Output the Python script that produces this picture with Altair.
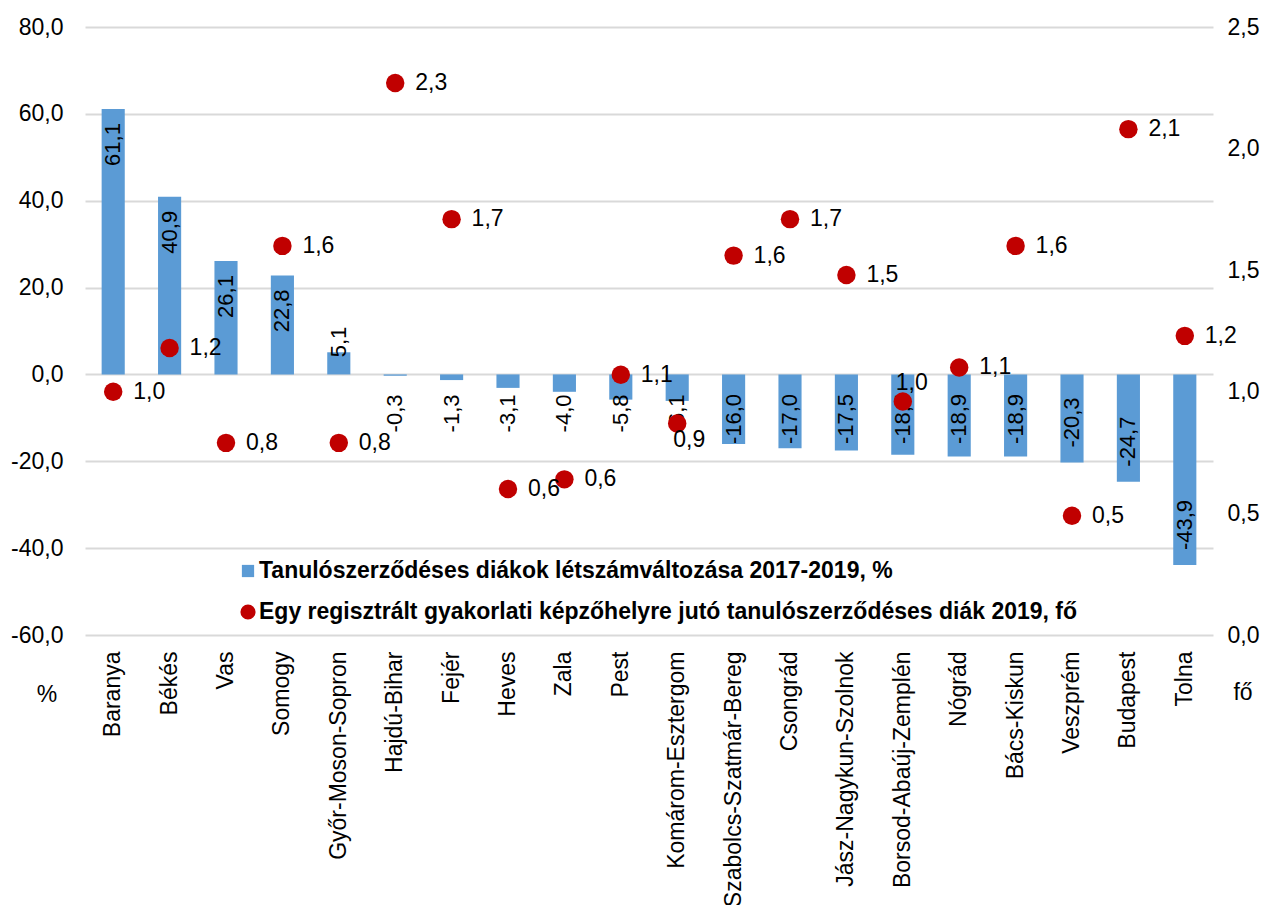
import altair as alt
import pandas as pd

counties = ["Baranya", "Békés", "Vas", "Somogy", "Győr-Moson-Sopron", "Hajdú-Bihar",
            "Fejér", "Heves", "Zala", "Pest", "Komárom-Esztergom", "Szabolcs-Szatmár-Bereg",
            "Csongrád", "Jász-Nagykun-Szolnok", "Borsod-Abaúj-Zemplén", "Nógrád",
            "Bács-Kiskun", "Veszprém", "Budapest", "Tolna"]
change_pct = [61.1, 40.9, 26.1, 22.8, 5.1, -0.3, -1.3, -3.1, -4.0, -5.8, -6.1, -16.0,
              -17.0, -17.5, -18.5, -18.9, -18.9, -20.3, -24.7, -43.9]
per_site = [1.0, 1.18, 0.79, 1.6, 0.79, 2.27, 1.71, 0.6, 0.64, 1.07, 0.87, 1.56,
            1.71, 1.48, 0.96, 1.1, 1.6, 0.49, 2.08, 1.23]

bar_series = "Tanulószerződéses diákok létszámváltozása 2017-2019, %"
dot_series = "Egy regisztrált gyakorlati képzőhelyre jutó tanulószerződéses diák 2019, fő"
left_unit = "%"
right_unit = "fő"
below_label = ["Komárom-Esztergom"]
above_label = ["Borsod-Abaúj-Zemplén"]
left_ticks = [-60, -40, -20, 0, 20, 40, 60, 80]
right_ticks = [0, 0.5, 1, 1.5, 2, 2.5]

BLUE = "#5B9BD5"
RED = "#C00000"
FONT = "Liberation Sans"
W, H = 1128, 608


def hu(v):
    return f"{v:.1f}".replace(".", ",")


df = pd.DataFrame({
    "county": counties,
    "chg": change_pct,
    "site": per_site,
    "chg_lab": [hu(v) for v in change_pct],
    "site_lab": [hu(v) for v in per_site],
})

x_axis = alt.Axis(title=None, labelAngle=270, labelFontSize=23, labelColor="black",
                  labelPadding=16, domain=False, ticks=False, labelFont=FONT,
                  labelLimit=400, grid=False)
x_scale = alt.Scale(paddingInner=0.59, paddingOuter=0.295)


def xenc():
    return alt.X("county:N", sort=counties, scale=x_scale, axis=x_axis)


yl_scale = alt.Scale(domain=[-60, 80], nice=False, zero=False)
yr_scale = alt.Scale(domain=[0, 2.5], nice=False, zero=False)

yl_axis = alt.Axis(title=None, orient="left", values=left_ticks,
                   labelExpr="(datum.value < 0 ? '-' : '') + replace(format(abs(datum.value), '.1f'), '.', ',')",
                   labelFontSize=23, labelColor="black", labelPadding=22, labelFont=FONT,
                   domain=False, ticks=False, grid=True, gridColor="#D9D9D9", gridWidth=2)
yr_axis = alt.Axis(title=None, orient="right", values=right_ticks,
                   labelExpr="replace(format(datum.value, '.1f'), '.', ',')",
                   labelFontSize=23, labelColor="black", labelPadding=14, labelFont=FONT,
                   domain=False, ticks=False, grid=False)

base = alt.Chart(df)

bars = base.mark_bar(color=BLUE).encode(
    x=xenc(),
    y=alt.Y("chg:Q", scale=yl_scale, axis=yl_axis),
)

lab_common = dict(angle=270, baseline="middle", fontSize=22, font=FONT, color="black")

lab_pos_big = base.transform_filter("datum.chg >= 10").mark_text(
    align="right", dx=-14, **lab_common).encode(
    x=xenc(), y=alt.Y("chg:Q", scale=yl_scale, axis=yl_axis),
    text="chg_lab:N")

lab_pos_small = base.transform_filter("datum.chg > 0 && datum.chg < 10").mark_text(
    align="left", dx=-5, **lab_common).encode(
    x=xenc(), y=alt.Y("chg:Q", scale=yl_scale, axis=yl_axis),
    text="chg_lab:N")

lab_neg = base.transform_filter("datum.chg < 0").transform_calculate(
    chg="datum.chg > -10 ? -16.8 : min(datum.chg, -19.5)").mark_text(
    align="left", dx=15, **lab_common).encode(
    x=xenc(), y=alt.Y("chg:Q", scale=yl_scale, axis=yl_axis),
    text="chg_lab:N")

left_layer = alt.layer(bars, lab_pos_big, lab_pos_small, lab_neg)

dots = base.mark_circle(color=RED, size=340, opacity=1).encode(
    x=xenc(),
    y=alt.Y("site:Q", scale=yr_scale, axis=yr_axis),
)

special = below_label + above_label
special_js = "[" + ",".join('"' + s + '"' for s in special) + "]"

dot_lab = base.transform_filter(
    "indexof(" + special_js + ", datum.county) < 0"
).mark_text(align="left", baseline="middle", dx=20, fontSize=23, font=FONT, color="black").encode(
    x=xenc(), y=alt.Y("site:Q", scale=yr_scale, axis=yr_axis),
    text="site_lab:N")

dot_lab_below = base.transform_filter(
    alt.FieldOneOfPredicate(field="county", oneOf=below_label)
).mark_text(align="center", baseline="middle", dx=12, dy=17, fontSize=23, font=FONT,
            color="black").encode(
    x=xenc(), y=alt.Y("site:Q", scale=yr_scale, axis=yr_axis),
    text="site_lab:N")

dot_lab_above = base.transform_filter(
    alt.FieldOneOfPredicate(field="county", oneOf=above_label)
).mark_text(align="center", baseline="middle", dx=9, dy=-19, fontSize=23, font=FONT,
            color="black").encode(
    x=xenc(), y=alt.Y("site:Q", scale=yr_scale, axis=yr_axis),
    text="site_lab:N")

right_layer = alt.layer(dots, dot_lab, dot_lab_below, dot_lab_above)

# legend and unit captions
one = pd.DataFrame({"k": [0]})
leg_sq = alt.Chart(one).mark_square(color=BLUE, size=150, opacity=1).encode(
    x=alt.value(163), y=alt.value(544))
leg_ci = alt.Chart(one).mark_circle(color=RED, size=230, opacity=1).encode(
    x=alt.value(163), y=alt.value(585))
leg_t1 = alt.Chart(one).mark_text(align="left", baseline="middle", fontSize=23, font=FONT,
                                  fontWeight="bold", color="black").encode(
    x=alt.value(174), y=alt.value(544), text=alt.value(bar_series))
leg_t2 = alt.Chart(one).mark_text(align="left", baseline="middle", fontSize=23, font=FONT,
                                  fontWeight="bold", color="black").encode(
    x=alt.value(174), y=alt.value(585), text=alt.value(dot_series))
unit_l = alt.Chart(one).mark_text(align="center", baseline="middle", fontSize=23, font=FONT,
                                  color="black").encode(
    x=alt.value(-38), y=alt.value(668), text=alt.value(left_unit))
unit_r = alt.Chart(one).mark_text(align="center", baseline="middle", fontSize=23, font=FONT,
                                  color="black").encode(
    x=alt.value(1158), y=alt.value(666), text=alt.value(right_unit))

chart = alt.layer(
    left_layer, right_layer, leg_sq, leg_ci, leg_t1, leg_t2, unit_l, unit_r
).resolve_scale(y="independent").properties(
    width=W, height=H,
    autosize=alt.AutoSizeParams(type="none"),
    padding={"left": 77, "top": 19, "right": 50, "bottom": 270},
).configure(font=FONT, background="white").configure_view(strokeWidth=0, stroke="transparent")

chart.save("out.html", embed_options={"renderer": "svg", "actions": False})
